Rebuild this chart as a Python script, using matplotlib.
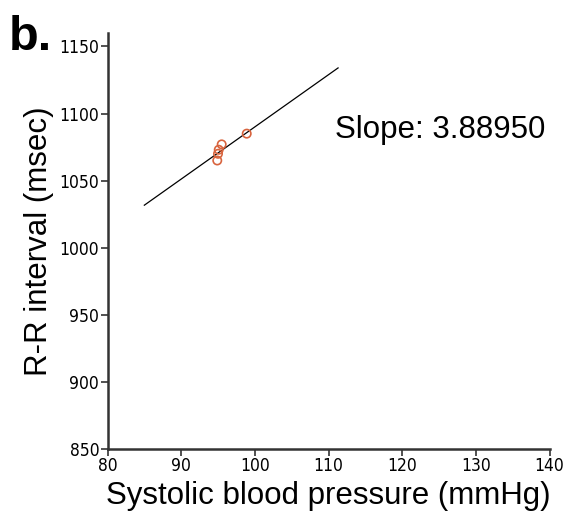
import numpy as np
import matplotlib
matplotlib.use("Agg")
import matplotlib.pyplot as plt

# Data
sbp = [98.9, 95.5, 95.1, 95.0, 94.9]          # systolic blood pressure (mmHg)
rri = [1085, 1077, 1073, 1070, 1065]          # R-R interval (msec)
slope = 3.88950
line_x = [85.0, 111.3]
x_ticks = [80, 90, 100, 110, 120, 130, 140]
y_ticks = [850, 900, 950, 1000, 1050, 1100, 1150]

intercept = np.mean(rri) - slope * np.mean(sbp)
line_y = [slope * x + intercept for x in line_x]

fig = plt.figure(figsize=(5.64, 5.17), dpi=100)
ax = fig.add_axes([107.5 / 564, 1 - 449 / 517, 442 / 564, 416 / 517])

ax.plot(line_x, line_y, color="black", lw=0.9)
ax.scatter(sbp, rri, s=36, facecolors="none", edgecolors="#d8643e", linewidths=1.2, zorder=3)

ax.set_xlim(80, 140)
ax.set_ylim(850, 1160)
ax.set_xticks(x_ticks)
ax.set_yticks(y_ticks)
ax.set_xticklabels([str(t) for t in x_ticks], family="DejaVu Sans", stretch="condensed", fontsize=12.5)
ax.set_yticklabels([str(t) for t in y_ticks], family="DejaVu Sans", stretch="condensed", fontsize=12.5)
ax.tick_params(direction="out", length=5, width=1.2, color="#333333", pad=1)

for s in ["top", "right"]:
    ax.spines[s].set_visible(False)
for s in ["left", "bottom"]:
    ax.spines[s].set_color("#333333")
    ax.spines[s].set_linewidth(1.8)

lab_font = ["Liberation Sans", "DejaVu Sans"]
ax.set_xlabel("Systolic blood pressure (mmHg)", family=lab_font, fontsize=22.5, labelpad=4)
ax.set_ylabel("R-R interval (msec)", family=lab_font, fontsize=22.5, labelpad=4)

fig.text(335 / 564, 1 - 130 / 517, "Slope: 3.88950", family=lab_font, fontsize=22.5,
         va="center", ha="left")
fig.text(9 / 564, 1 - 37 / 517, "b.", family=lab_font, fontsize=35, fontweight="bold",
         va="center", ha="left")

fig.savefig("out.png", dpi=100)
